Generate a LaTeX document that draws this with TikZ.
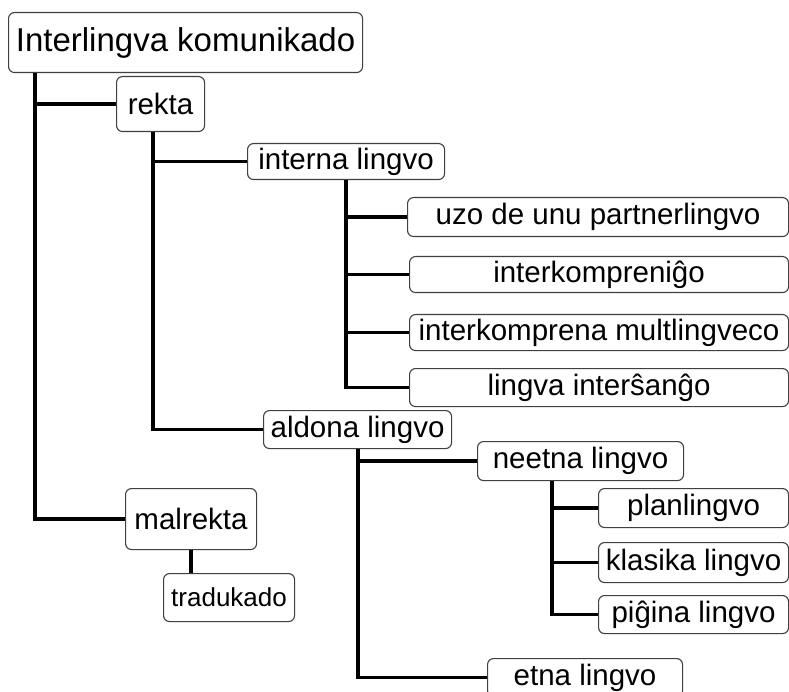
\documentclass[tikz,border=0pt]{standalone}
\usepackage{fontspec}
\setmainfont{Liberation Sans}
\usepackage{tikz}
\usetikzlibrary{arrows.meta}
\tikzset{mmbox/.style={draw=black!75, line width=1.1pt, rounded corners=6pt, fill=white, inner sep=0pt, anchor=north west, font=\fontsize{29.5}{32}\selectfont}}
\tikzset{mmlink/.style={line width=3.5pt}}
\newcommand{\mmnode}[6][] {\node at (#2) (#3) [mmbox, minimum width=#4, minimum height=#5, #1] {#6};}
\newcommand{\mmlink}[3] {\draw [mmlink] ([xshift=#3]#1.south west) |- (#2.west);}

\begin{document}
\begin{tikzpicture}[x=1pt, y=-1pt]
\clip (0,0) rectangle (789,692);
\mmnode[font=\fontsize{33}{36}\selectfont] {8,12} {root} {354} {60} {Interlingva komunikado};
\mmnode {116,76} {rekta} {88} {55} {rekta};
\mmnode {247,143} {interna} {197} {36} {interna lingvo};
\mmnode {407,197} {uzo} {381} {39} {uzo de unu partnerlingvo};
\mmnode {409,256} {interkompr} {379} {36} {interkompreniĝo};
\mmnode {409,314} {multl} {379} {36} {interkomprena multlingveco};
\mmnode {409,368} {intersango} {379} {38} {lingva interŝanĝo};
\mmnode {263,410} {aldona} {188} {38} {aldona lingvo};
\mmnode {125,488} {malrekta} {131} {61} {malrekta};
\mmnode[font=\fontsize{26}{28}\selectfont] {163,573} {tradukado} {131} {48} {tradukado};
\mmnode {477,441} {neetna} {206} {39} {neetna lingvo};
\mmnode {598,488} {plan} {190} {39} {planlingvo};
\mmnode {598,542} {klasika} {190} {40} {klasika lingvo};
\mmnode {598,595} {pigxina} {190} {38} {piĝina lingvo};
\mmnode {487,658} {etna} {195} {38} {etna lingvo};

\mmlink{root}{rekta}{27};
\mmlink{root}{malrekta}{27};
\mmlink{rekta}{interna}{37};
\mmlink{rekta}{aldona}{37};
\mmlink{interna}{uzo}{99};
\mmlink{interna}{interkompr}{99};
\mmlink{interna}{multl}{99};
\mmlink{interna}{intersango}{99};
\mmlink{aldona}{neetna}{95};
\mmlink{aldona}{etna}{95};
\mmlink{neetna}{plan}{75};
\mmlink{neetna}{klasika}{75};
\mmlink{neetna}{pigxina}{75};
\draw [mmlink] (malrekta.south) -- (malrekta.south |- tradukado.north);
\end{tikzpicture}
\end{document}
